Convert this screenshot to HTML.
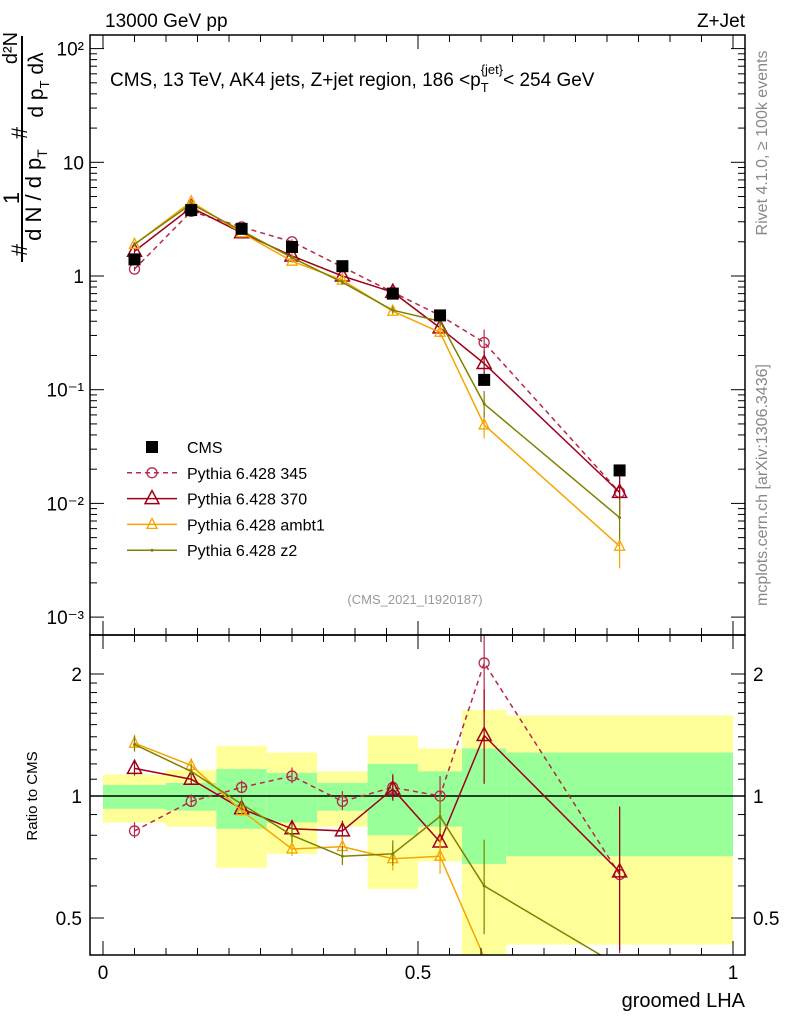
<!DOCTYPE html>
<html><head><meta charset="utf-8"><style>
html,body{margin:0;padding:0;background:#fff;width:786px;height:1024px;overflow:hidden;}
svg{display:block;font-family:"Liberation Sans",sans-serif;}
</style></head><body>
<svg id="c" width="786" height="1024" xmlns="http://www.w3.org/2000/svg">
<text x="105" y="27" font-size="19">13000 GeV pp</text>
<text x="745" y="27" font-size="19" text-anchor="end">Z+Jet</text>
<text x="110" y="86" font-size="19">CMS, 13 TeV, AK4 jets, Z+jet region, 186 &lt;p<tspan font-size="13" dy="6">T</tspan><tspan font-size="13" dy="-18" dx="-8">{jet}</tspan><tspan dy="12">&lt; 254 GeV</tspan></text>
<text x="415" y="604" font-size="13" fill="#999" text-anchor="middle">(CMS_2021_I1920187)</text>
<text transform="translate(767,143) rotate(-90)" font-size="16" fill="#888" text-anchor="middle">Rivet 4.1.0, ≥ 100k events</text>
<text transform="translate(767,485) rotate(-90)" font-size="16" fill="#888" text-anchor="middle">mcplots.cern.ch [arXiv:1306.3436]</text>
<g font-size="22">
<line x1="22" y1="262" x2="22" y2="36" stroke="#000" stroke-width="2"/>
<text transform="translate(27,250) rotate(-90)" text-anchor="middle">#</text>
<text transform="translate(19,198) rotate(-90)" text-anchor="middle">1</text>
<text transform="translate(41,195) rotate(-90)" text-anchor="middle">d N / d p<tspan font-size="14" dy="6">T</tspan></text>
<text transform="translate(27,133) rotate(-90)" text-anchor="middle">#</text>
<text transform="translate(17,48) rotate(-90)" text-anchor="middle" font-size="20">d²N</text>
<text transform="translate(43,85) rotate(-90)" text-anchor="middle" font-size="21">d p<tspan font-size="13" dy="6">T</tspan><tspan dy="-6"> dλ</tspan></text>
</g>
<text transform="translate(37,796) rotate(-90)" font-size="15" text-anchor="middle">Ratio to CMS</text>
<text x="745" y="1007" font-size="20" text-anchor="end">groomed LHA</text>
<g id="bands"></g><g id="grid"></g><g id="marks"></g><g id="axes"></g><g id="legend"></g>
</svg>
<script>
const binEdges=[0,0.1,0.18,0.26,0.34,0.42,0.5,0.57,0.64,1.0];
const xCenters=[0.05,0.14,0.22,0.30,0.38,0.46,0.535,0.605,0.82];
const cmsVals=[1.4,3.8,2.6,1.8,1.22,0.70,0.45,0.122,0.0195];
const p345=[1.15,3.7,2.7,2.0,1.2,0.72,0.45,0.26,0.0125];
const p370=[1.65,4.0,2.4,1.5,1.0,0.72,0.35,0.17,0.0125];
const pAmbt1=[1.9,4.5,2.4,1.35,0.92,0.49,0.32,0.049,0.0042];
const pZ2=[1.9,4.3,2.5,1.45,0.88,0.50,0.40,0.075,0.0075];
const r345=[0.82,0.97,1.05,1.12,0.97,1.05,1.0,2.13,0.64];
const r370=[1.17,1.10,0.93,0.83,0.82,1.04,0.77,1.41,0.65];
const rAmbt1=[1.35,1.19,0.92,0.74,0.75,0.70,0.71,0.40,0.2];
const rZ2=[1.34,1.15,0.955,0.80,0.71,0.72,0.89,0.60,0.38];
const yelLo=[0.86,0.84,0.665,0.72,0.84,0.59,0.69,0.39,0.43];
const yelHi=[1.13,1.16,1.33,1.28,1.15,1.41,1.31,1.63,1.58];
const grnLo=[0.93,0.92,0.83,0.86,0.92,0.80,0.84,0.68,0.71];
const grnHi=[1.065,1.077,1.166,1.14,1.077,1.2,1.15,1.31,1.28];
const relErr=[0.05,0.04,0.04,0.05,0.06,0.08,0.12,0.3,0.45];
const NS="http://www.w3.org/2000/svg";
const X=v=>103+630*v;
const Y=v=>276-113.7*Math.log10(v);
const R=v=>796-122*Math.log2(v);
const L=90,Rt=745,T1=35,B1=635,B2=955;
function el(t,a,p){const e=document.createElementNS(NS,t);for(const k in a)e.setAttribute(k,a[k]);document.getElementById(p).appendChild(e);return e;}
for(let i=0;i<9;i++){
 const x1=X(binEdges[i]),x2=X(binEdges[i+1]);
 const yb=el('rect',{x:x1,y:R(yelHi[i]),width:x2-x1,height:Math.min(B2,R(yelLo[i]))-R(yelHi[i]),fill:'#ffff99'},'bands');
 
 
 const gb=el('rect',{x:x1,y:R(grnHi[i]),width:x2-x1,height:R(grnLo[i])-R(grnHi[i]),fill:'#99ff99'},'bands');
 
 
}
el('line',{x1:L,x2:Rt,y1:R(1),y2:R(1),stroke:'#000','stroke-width':1.5},'grid');
const series=[
 {name:'pythia-345',m:p345,r:r345,c:'#b5294a',d:'5,4',mk:'circle'},
 {name:'pythia-370',m:p370,r:r370,c:'#a0001a',d:'',mk:'tri'},
 {name:'pythia-ambt1',m:pAmbt1,r:rAmbt1,c:'#f5a500',d:'',mk:'tris'},
 {name:'pythia-z2',m:pZ2,r:rZ2,c:'#808000',d:'',mk:'dot'}];
function marker(mk,x,y,c,g){
 let e;
 if(mk==='circle')e=el('circle',{cx:x,cy:y,r:5,fill:'none',stroke:c,'stroke-width':1.3},g);
 else if(mk==='tri')e=el('polygon',{points:`${x},${y-8} ${x-7},${y+5} ${x+7},${y+5}`,fill:'none',stroke:c,'stroke-width':1.5},g);
 else if(mk==='tris')e=el('polygon',{points:`${x},${y-6} ${x-5},${y+4} ${x+5},${y+4}`,fill:'none',stroke:c,'stroke-width':1.3},g);
 else e=el('circle',{cx:x,cy:y,r:1.5,fill:c},g);
 return e;
}
function clip(y,lo,hi){return Math.max(lo,Math.min(hi,y));}
series.forEach(s=>{
 const pm=s.m.map((v,i)=>X(xCenters[i])+','+Y(v)).join(' ');
 const l1=el('polyline',{points:pm,fill:'none',stroke:s.c,'stroke-width':1.5,'stroke-dasharray':s.d},'marks');
 
 
 const pr=s.r.map((v,i)=>X(xCenters[i])+','+R(v)).join(' ');
 const cp=el('clipPath',{id:'cp-'+s.name},'marks');
 const cr=document.createElementNS(NS,'rect');cr.setAttribute('x',L);cr.setAttribute('y',B1);cr.setAttribute('width',Rt-L);cr.setAttribute('height',B2-B1);cp.appendChild(cr);
 const l2=el('polyline',{points:pr,fill:'none',stroke:s.c,'stroke-width':1.5,'stroke-dasharray':s.d,'clip-path':`url(#cp-${s.name})`},'marks');
 
 
 s.m.forEach((v,i)=>{
  const x=X(xCenters[i]),e=relErr[i];
  el('line',{x1:x,x2:x,y1:Y(v*(1+e)),y2:Y(v*(1-e*0.8)),stroke:s.c,'stroke-width':1.2},'marks');
  const m=marker(s.mk,x,Y(v),s.c,'marks');
  
  
  const rv=s.r[i];
  if(R(rv)<B2&&R(rv)>B1){
   el('line',{x1:x,x2:x,y1:clip(R(rv*(1+e)),B1,B2),y2:clip(R(rv*(1-e*0.8)),B1,B2),stroke:s.c,'stroke-width':1.2},'marks');
   const m2=marker(s.mk,x,R(rv),s.c,'marks');
   
   
  }
 });
});
cmsVals.forEach((v,i)=>{
 const r=el('rect',{x:X(xCenters[i])-6,y:Y(v)-6,width:12,height:12,fill:'#000'},'marks');
 
 
});
const ax='axes';
el('rect',{x:L,y:T1,width:Rt-L,height:B1-T1,fill:'none',stroke:'#000','stroke-width':1.5},ax);
el('rect',{x:L,y:B1,width:Rt-L,height:B2-B1,fill:'none',stroke:'#000','stroke-width':1.5},ax);
const decLabels=['10⁻³','10⁻²','10⁻¹','1','10','10²'];
const decs=[-3,-2,-1,0,1,2];
decs.forEach((d,k)=>{
 const y=Y(Math.pow(10,d));
 el('line',{x1:L,x2:L+14,y1:y,y2:y,stroke:'#000'},ax);el('line',{x1:Rt,x2:Rt-14,y1:y,y2:y,stroke:'#000'},ax);
 const t=el('text',{x:L-6,y:y+7,'font-size':19,'text-anchor':'end'},ax);t.textContent=decLabels[k];
 for(let m=2;m<10;m++){const yy=Y(m*Math.pow(10,d));if(yy>T1){el('line',{x1:L,x2:L+7,y1:yy,y2:yy,stroke:'#000'},ax);el('line',{x1:Rt,x2:Rt-7,y1:yy,y2:yy,stroke:'#000'},ax);}}
});
const rTicks=[0.5,1,2];
rTicks.forEach(v=>{const y=R(v);
 el('line',{x1:L,x2:L+14,y1:y,y2:y,stroke:'#000'},ax);el('line',{x1:Rt,x2:Rt-14,y1:y,y2:y,stroke:'#000'},ax);
 let t=el('text',{x:L-8,y:y+7,'font-size':19,'text-anchor':'end'},ax);t.textContent=v;
 t=el('text',{x:Rt+8,y:y+7,'font-size':19},ax);t.textContent=v;});
[0.6,0.7,0.8,0.9,1.1,1.2,1.3,1.4,1.5,1.6,1.7,1.8,1.9].forEach(v=>{const y=R(v);el('line',{x1:L,x2:L+7,y1:y,y2:y,stroke:'#000'},ax);el('line',{x1:Rt,x2:Rt-7,y1:y,y2:y,stroke:'#000'},ax);});
const xTickLabels=['0','0.5','1'];
for(let k=0;k<=20;k++){const v=k*0.05,x=X(v),big=k%10===0;
 el('line',{x1:x,x2:x,y1:B2,y2:B2-(big?14:7),stroke:'#000'},ax);
 el('line',{x1:x,x2:x,y1:B1,y2:B1-(big?14:7),stroke:'#000'},ax);
 el('line',{x1:x,x2:x,y1:T1,y2:T1+(big?14:7),stroke:'#000'},ax);
 el('line',{x1:x,x2:x,y1:B1,y2:B1+(big?14:7),stroke:'#000'},ax);
 if(big){const t=el('text',{x:x,y:979,'font-size':19,'text-anchor':'middle'},ax);t.textContent=xTickLabels[k/10];}}
const lg='legend';
const names=['CMS','Pythia 6.428 345','Pythia 6.428 370','Pythia 6.428 ambt1','Pythia 6.428 z2'];
names.forEach((n,k)=>{const y=447+k*25.8;
 if(k===0)el('rect',{x:146,y:y-6,width:12,height:12,fill:'#000'},lg);
 else{const s=series[k-1];el('line',{x1:127,x2:177,y1:y,y2:y,stroke:s.c,'stroke-width':1.5,'stroke-dasharray':s.d},lg);marker(s.mk,152,y,s.c,lg);}
 const t=el('text',{x:187,y:y+6,'font-size':16},lg);t.textContent=n;
 
 });
</script>
</body></html>
